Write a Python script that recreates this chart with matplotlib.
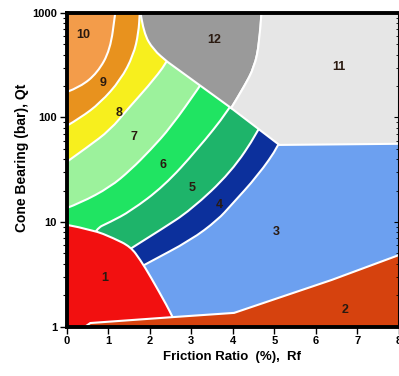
import matplotlib
matplotlib.use("Agg")
import matplotlib.pyplot as plt
from matplotlib.patches import PathPatch
from matplotlib.path import Path

plt.rcParams['font.family'] = ['Liberation Sans Narrow', 'Liberation Sans', 'DejaVu Sans']

# zone boundaries: friction ratio Rf (%) vs cone bearing Qt (bar)
rf_10_9 = [0, 0.33, 0.74, 1.05, 1.17]
qt_10_9 = [175, 196, 267, 443, 1000]
rf_9_8 = [0, 0.33, 0.81, 1.30, 1.61, 1.73, 1.76]
qt_9_8 = [83, 99, 138, 229, 396, 644, 1000]
rf_8_7 = [0, 0.50, 1.05, 1.49, 1.95, 2.43, 2.70]
qt_8_7 = [37.5, 52, 76, 123, 196, 340, 600]
rf_7_6 = [0, 0.33, 1.05, 1.54, 2.02, 2.51, 3.21, 3.50]
qt_7_6 = [13.6, 15.2, 21.6, 31.5, 49, 81, 200, 300]
rf_6_5 = [0, 0.64, 1.05, 1.54, 2.34, 3.14, 3.91, 4.20]
qt_6_5 = [3, 8.4, 10, 12.7, 22, 49, 118, 200]
rf_5_4 = [0, 1.0, 1.61, 2.26, 2.99, 3.96, 4.61, 4.90]
qt_5_4 = [2, 4, 5.8, 8.4, 13, 30, 73, 130]
rf_4_3 = [0, 1.0, 1.95, 2.99, 3.64, 3.96, 4.61, 5.12, 5.40]
qt_4_3 = [1.5, 2.5, 4.05, 6.7, 10.5, 14.5, 28, 54.6, 100]

# zone 1 (red) upper edge, zone 2 upper edge
rf_z1 = [0, 0.64, 1.13, 1.54, 1.78, 2.02, 2.43, 2.55]
qt_z1 = [9.4, 8.4, 7.0, 5.8, 4.3, 3.0, 1.54, 1.23]
rf_z2 = [0.30, 0.45, 0.57, 2.55, 4.03, 5.17, 6.38, 8.0, 9.0]
qt_z2 = [0.95, 1.0, 1.08, 1.23, 1.35, 1.92, 2.79, 4.83, 6.0]

# zone 12 curved edge, diagonal, zone 12 / 11 edge, zone 11 / 3 edge
rf_z12 = [1.78, 1.85, 2.09, 2.43]
qt_z12 = [1000, 644, 443, 340]
rf_diag = [2.43, 3.96, 5.12]
qt_diag = [340, 123, 54.6]
rf_12_11 = [3.96, 4.27, 4.52, 4.64, 4.69]
qt_12_11 = [123, 196, 304, 516, 1000]
rf_11_3 = [5.12, 8.0, 9.0]
qt_11_3 = [54.6, 56, 56]

zone_colors = {1: '#F21010', 2: '#D6420E', 3: '#6CA0F0', 4: '#0C309C',
               5: '#1EB46A', 6: '#20E462', 7: '#9CF29C', 8: '#F7EF1E',
               9: '#E8921E', 10: '#F39C4A', 11: '#E6E6E6', 12: '#9A9A9A'}

label_zone = [1, 2, 3, 4, 5, 6, 7, 8, 9, 10, 11, 12]
label_rf = [0.91, 6.70, 5.05, 3.67, 3.01, 2.31, 1.61, 1.25, 0.88, 0.40, 6.55, 3.55]
label_qt = [2.9, 1.44, 8.0, 14.5, 21, 35, 65, 110, 214, 616, 304, 552]

x_ticks = [0, 1, 2, 3, 4, 5, 6, 7, 8]
y_ticks = [1, 10, 100, 1000]

TOP = 2000


def smooth(rf, qt):
    # quadratic bezier through segment midpoints (geometric mean for log axis)
    verts, codes = [], []
    for i in range(1, len(rf) - 1):
        verts.append((rf[i], qt[i]))
        verts.append(((rf[i] + rf[i + 1]) / 2, (qt[i] * qt[i + 1]) ** 0.5))
        codes += [Path.CURVE3, Path.CURVE3]
    verts.append((rf[-1], qt[-1]))
    codes.append(Path.LINETO)
    return verts, codes


def line(rf, qt):
    return list(zip(rf, qt)), [Path.LINETO] * len(rf)


def add(start, parts, color):
    verts, codes = [start], [Path.MOVETO]
    for v, c in parts:
        verts += v
        codes += c
    verts.append(start)
    codes.append(Path.CLOSEPOLY)
    ax.add_patch(PathPatch(Path(verts, codes), facecolor=color,
                           edgecolor='white', lw=1.5))


fig = plt.figure(figsize=(3.99, 3.76), dpi=100)
ax = fig.add_axes([0.167, 0.1316, 0.833, 0.834])
ax.set_yscale('log')
ax.set_xlim(0, 8)
ax.set_ylim(1, 1000)
ax.set_facecolor(zone_colors[3])

bands = [(rf_4_3, qt_4_3, 4), (rf_5_4, qt_5_4, 5), (rf_6_5, qt_6_5, 6),
         (rf_7_6, qt_7_6, 7), (rf_8_7, qt_8_7, 8), (rf_9_8, qt_9_8, 9),
         (rf_10_9, qt_10_9, 10)]
for rf, qt, z in bands:
    add((-1, qt[0]), [line(rf[:1], qt[:1]), smooth(rf, qt),
                      line([rf[-1], -1], [TOP, TOP])], zone_colors[z])

# zone 12
add((rf_z12[0], TOP), [line(rf_z12[:1], qt_z12[:1]), smooth(rf_z12, qt_z12),
                       line(rf_diag[1:2], qt_diag[1:2]),
                       smooth(rf_12_11, qt_12_11),
                       line([rf_12_11[-1]], [TOP])], zone_colors[12])
# zone 11
add((rf_12_11[-1], TOP), [line(rf_12_11[-1:], qt_12_11[-1:]),
                          smooth(rf_12_11[::-1], qt_12_11[::-1]),
                          line(rf_diag[2:], qt_diag[2:]),
                          line(rf_11_3[1:], qt_11_3[1:]),
                          line([rf_11_3[-1]], [TOP])], zone_colors[11])
# zone 1
add((-1, 0.5), [line([-1, 0], [qt_z1[0], qt_z1[0]]), smooth(rf_z1, qt_z1),
                line([2.7], [0.5])], zone_colors[1])
# zone 2
add((rf_z2[0], qt_z2[0]), [line(rf_z2[1:], qt_z2[1:]),
                           line([rf_z2[-1], rf_z2[0]], [0.5, 0.5])], zone_colors[2])

for z, x, y in zip(label_zone, label_rf, label_qt):
    ax.text(x, y, str(z), ha='center', va='center', fontsize=9,
            fontweight='bold', color='#2a1a10')

ax.set_xticks(x_ticks)
ax.set_xticklabels([str(v) for v in x_ticks])
ax.set_yticks(y_ticks)
ax.set_yticklabels([str(v) for v in y_ticks])
ax.tick_params(axis='both', which='major', direction='out', length=5, width=1,
               labelsize=8, pad=2)
ax.tick_params(axis='y', which='minor', direction='out', length=3, width=0.8)
for lab in ax.get_xticklabels() + ax.get_yticklabels():
    lab.set_fontweight('bold')
for side in ['left', 'bottom', 'top']:
    ax.spines[side].set_linewidth(2.8)
ax.spines['right'].set_linewidth(1.5)

ax2 = ax.twinx()
ax2.set_yscale('log')
ax2.set_ylim(1, 1000)
ax2.tick_params(axis='y', which='both', direction='in', labelright=False)
for side in ['left', 'bottom', 'top', 'right']:
    ax2.spines[side].set_visible(False)

fig.text(0.582, 1 - 357 / 376, 'Friction Ratio  (%),  Rf', ha='center', va='center',
         fontsize=9.5, fontweight='bold')
fig.text(22 / 399, 1 - 158 / 376, 'Cone Bearing (bar), Qt', ha='center', va='center',
         rotation=90, fontsize=10, fontweight='bold')

fig.savefig('out.png', dpi=100)
